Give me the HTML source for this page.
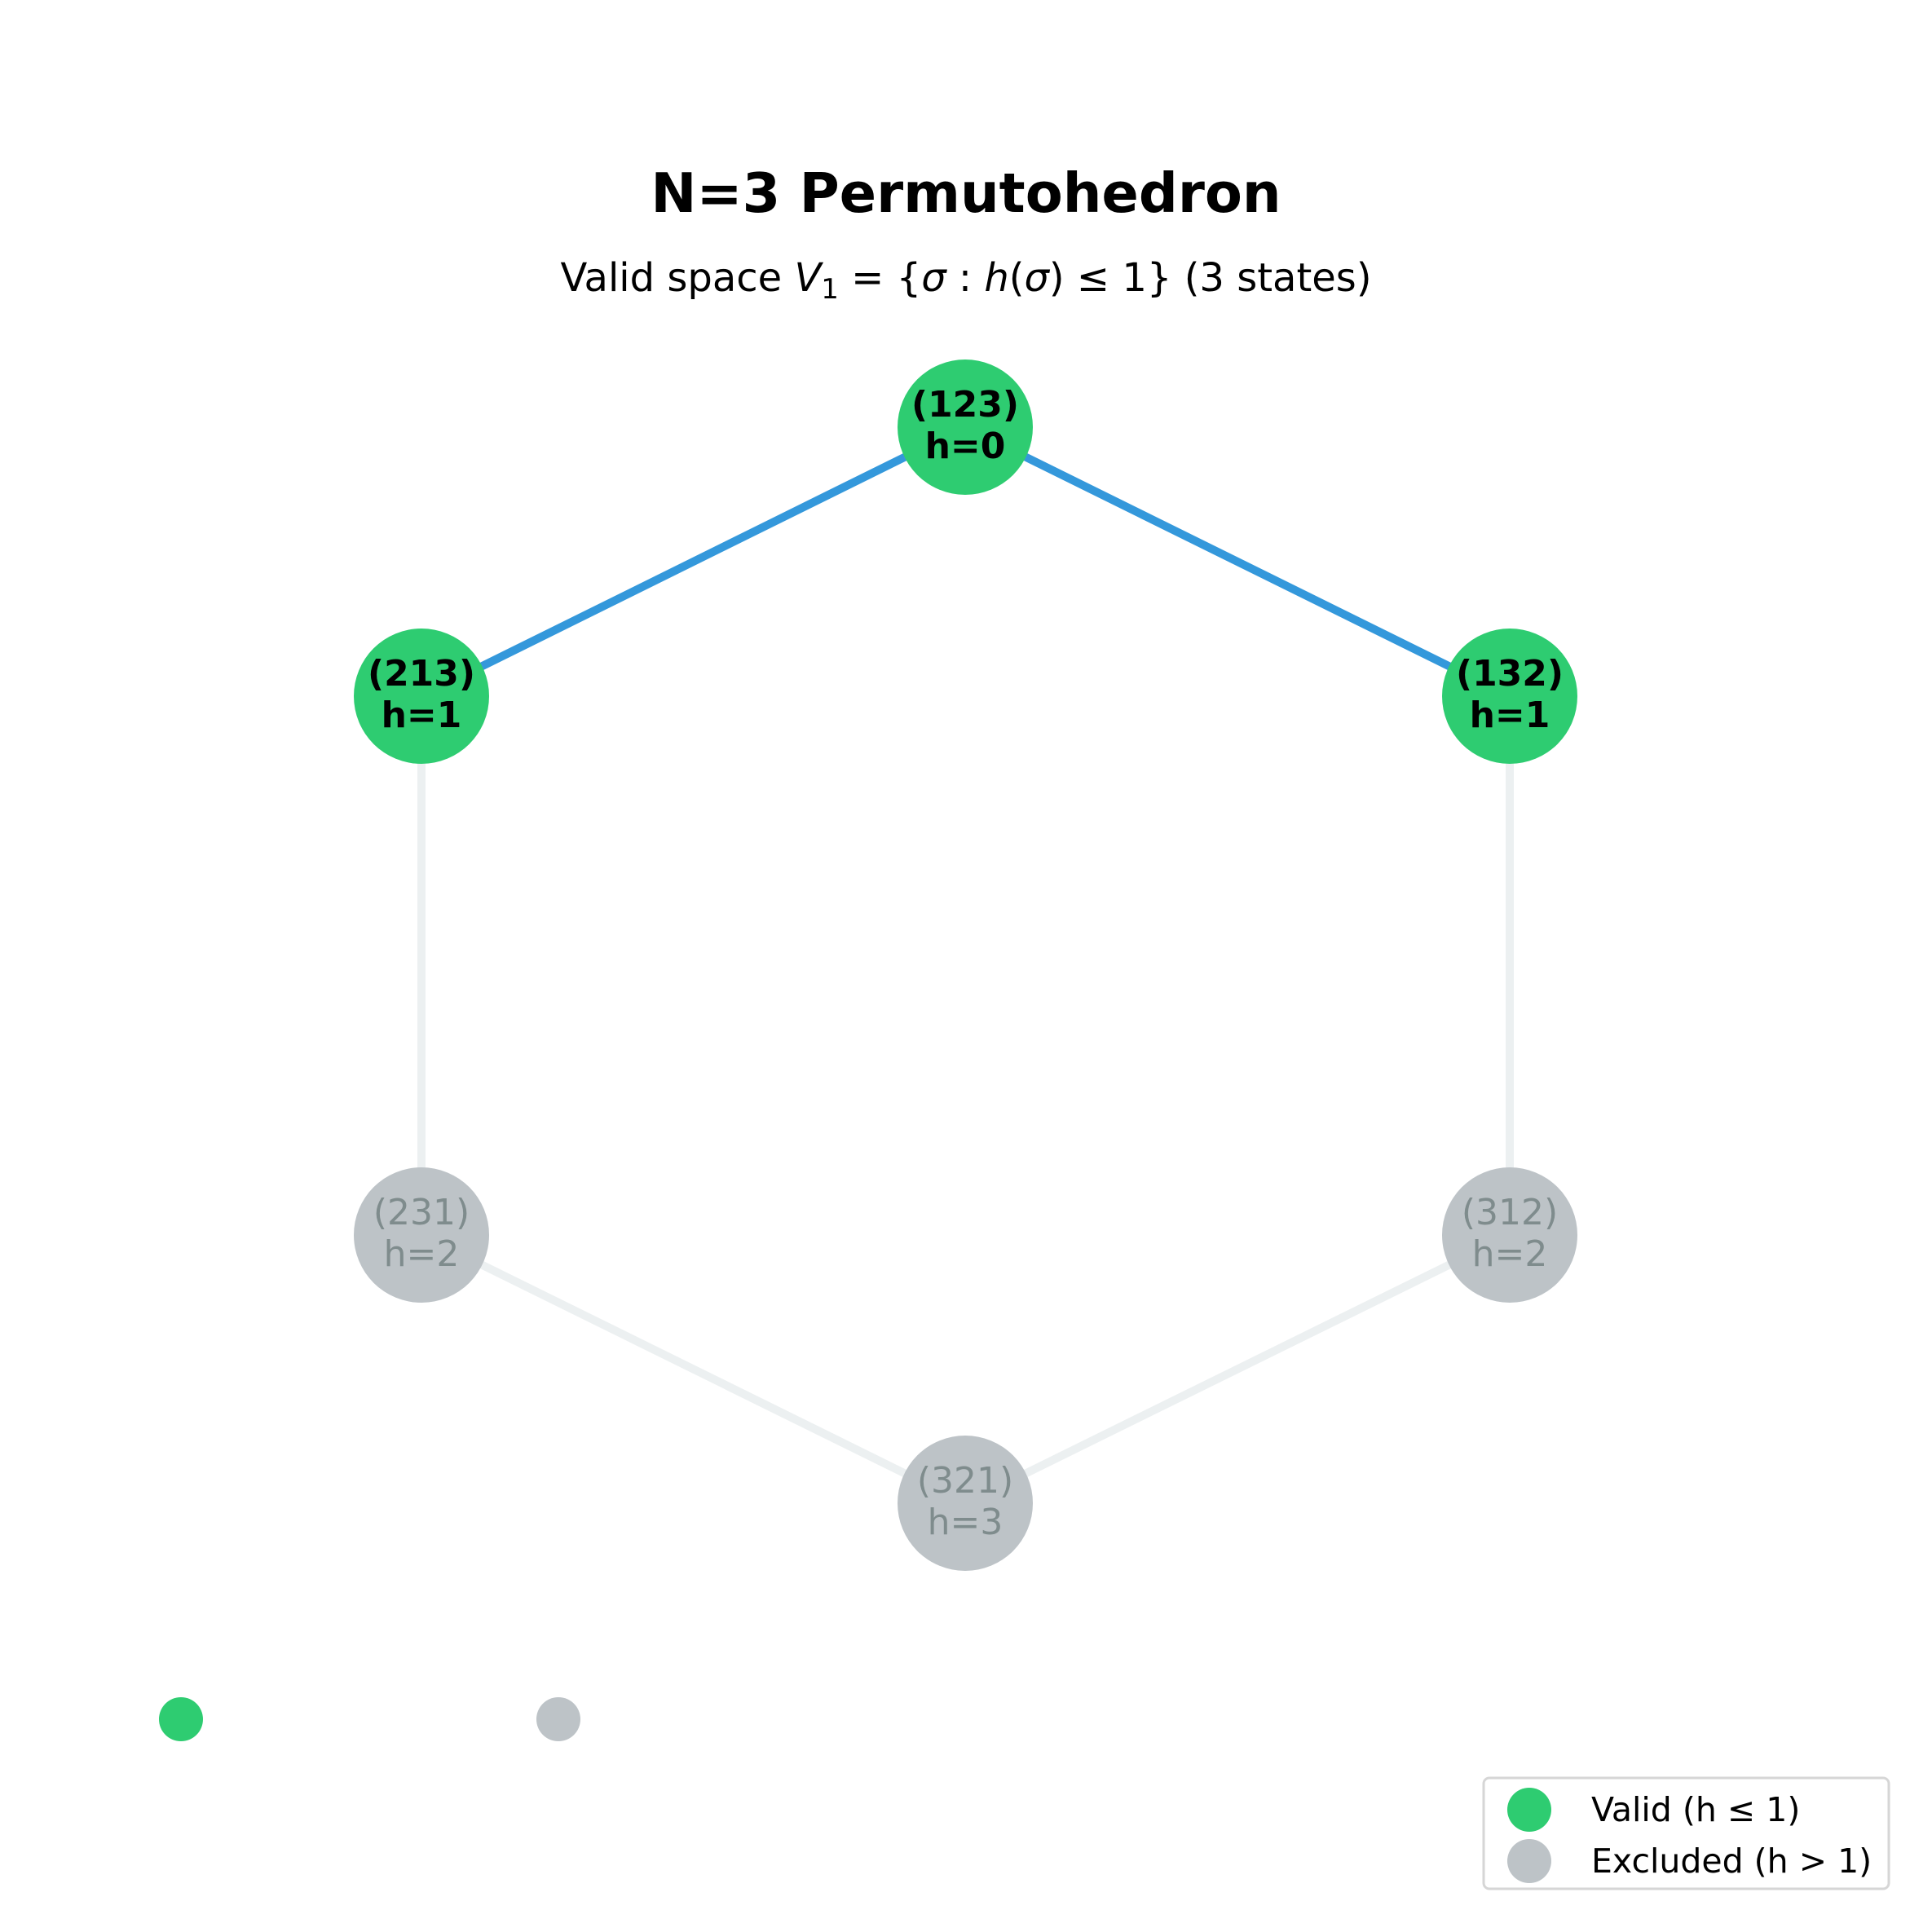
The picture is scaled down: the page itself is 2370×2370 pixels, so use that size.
<!DOCTYPE html>
<html><head><meta charset="utf-8"><style>html,body{margin:0;padding:0;background:#fff}svg{display:block}</style></head>
<body>
<svg width="2370" height="2370" viewBox="0 0 2370 2370" xmlns="http://www.w3.org/2000/svg" font-family="DejaVu Sans, Liberation Sans, sans-serif">
<rect width="2370" height="2370" fill="#fff"/>
<text x="1185" y="260" text-anchor="middle" font-size="67" font-weight="bold">N=3 Permutohedron</text>
<text x="1185" y="357" text-anchor="middle" font-size="48">Valid space <tspan font-style="italic">V</tspan><tspan font-size="34" dy="9">1</tspan><tspan dy="-9"> = {</tspan><tspan font-style="italic">σ</tspan> : <tspan font-style="italic">h</tspan>(<tspan font-style="italic">σ</tspan>) ≤ 1} (3 states)</text>
<g stroke-width="10" stroke-linecap="butt">
<line x1="517" y1="854" x2="1184" y2="524" stroke="#3498db"/>
<line x1="1184" y1="524" x2="1852" y2="854" stroke="#3498db"/>
<line x1="517" y1="854" x2="517" y2="1515" stroke="#ecf0f1"/>
<line x1="1852" y1="854" x2="1852" y2="1515" stroke="#ecf0f1"/>
<line x1="517" y1="1515" x2="1184" y2="1844" stroke="#ecf0f1"/>
<line x1="1852" y1="1515" x2="1184" y2="1844" stroke="#ecf0f1"/>
</g>
<g fill="#2ecc71">
<circle cx="1184" cy="524" r="83"/><circle cx="517" cy="854" r="83"/><circle cx="1852" cy="854" r="83"/>
</g>
<g fill="#bdc3c7">
<circle cx="517" cy="1515" r="83"/><circle cx="1852" cy="1515" r="83"/><circle cx="1184" cy="1844" r="83"/>
</g>
<g font-size="44" font-weight="bold" text-anchor="middle" fill="#000">
<text x="1184" y="511">(123)</text><text x="1184" y="562">h=0</text>
<text x="517" y="841">(213)</text><text x="517" y="892">h=1</text>
<text x="1852" y="841">(132)</text><text x="1852" y="892">h=1</text>
</g>
<g font-size="44" text-anchor="middle" fill="#7f8c8d">
<text x="517" y="1502">(231)</text><text x="517" y="1553">h=2</text>
<text x="1852" y="1502">(312)</text><text x="1852" y="1553">h=2</text>
<text x="1184" y="1831">(321)</text><text x="1184" y="1882">h=3</text>
</g>
<circle cx="222" cy="2109" r="27" fill="#2ecc71"/>
<circle cx="685" cy="2109" r="27" fill="#bdc3c7"/>
<rect x="1820" y="2181" width="497" height="136" rx="7" fill="#fff" stroke="#d6d6d6" stroke-width="3"/>
<circle cx="1876" cy="2220" r="27" fill="#2ecc71"/>
<circle cx="1876" cy="2283" r="27" fill="#bdc3c7"/>
<g font-size="41" fill="#000">
<text x="1952" y="2234">Valid (h ≤ 1)</text>
<text x="1952" y="2297">Excluded (h &gt; 1)</text>
</g>
</svg>
</body></html>
